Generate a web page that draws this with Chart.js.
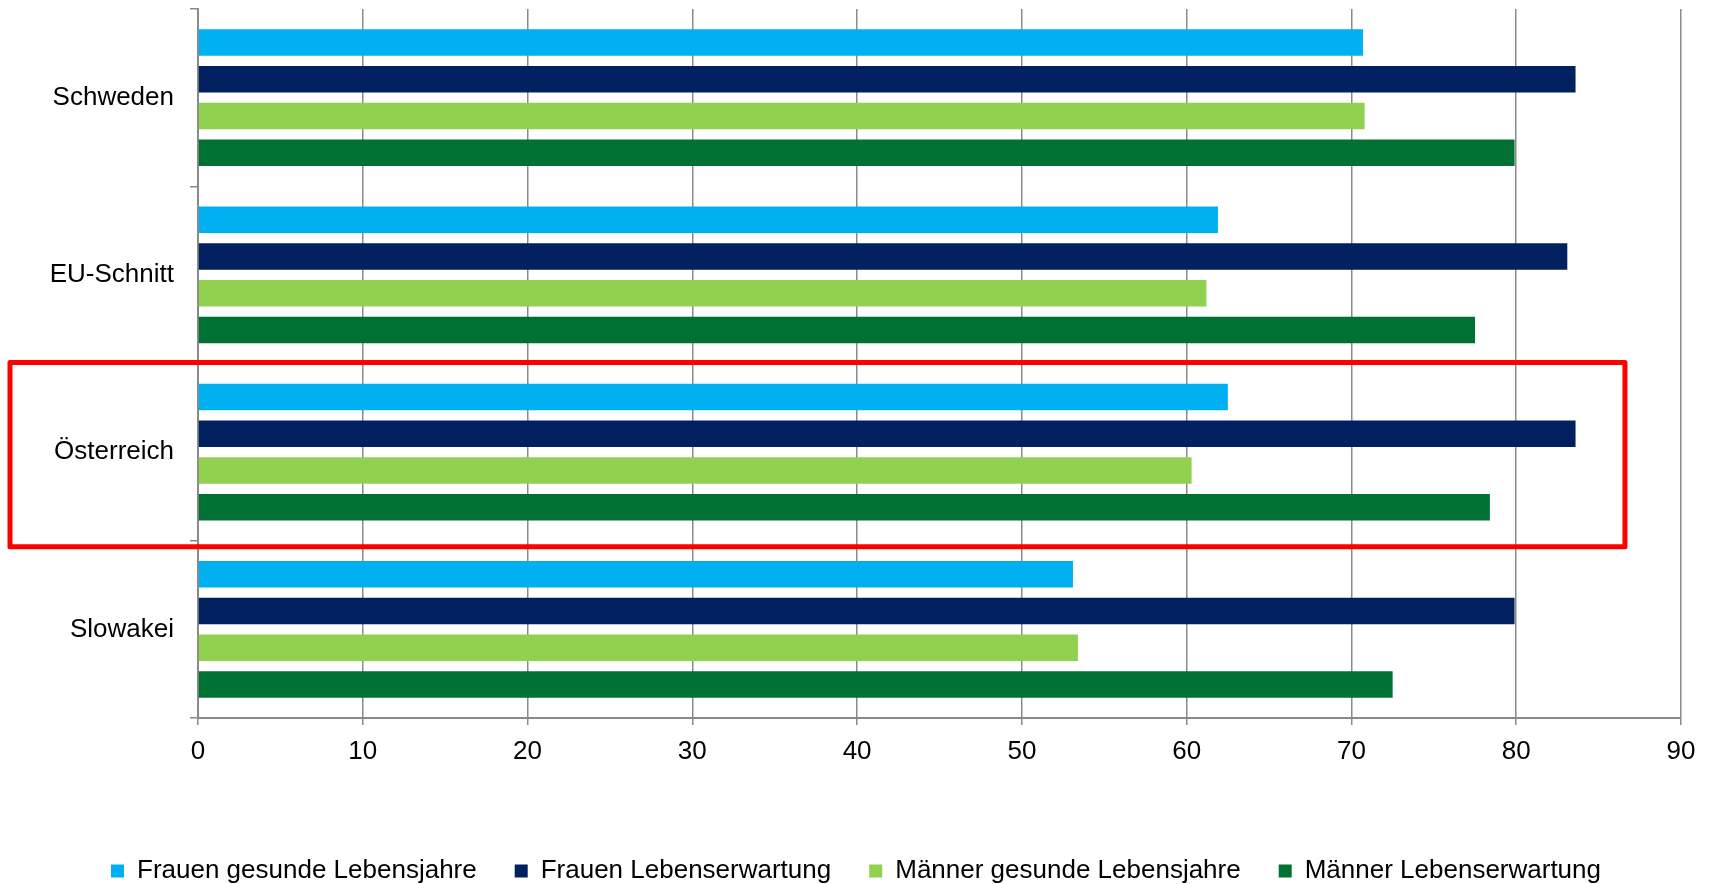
<!DOCTYPE html>
<html lang="de">
<head>
<meta charset="utf-8">
<title>Gesunde Lebensjahre und Lebenserwartung</title>
<script src="https://cdn.jsdelivr.net/npm/chart.js@4.4.1/dist/chart.umd.min.js"></script>
<style>
  html, body { margin: 0; padding: 0; background: #fff; }
  #wrap { width: 1710px; height: 884px; }
</style>
</head>
<body>
<div id="wrap"><canvas id="chart" width="1710" height="884"></canvas></div>
<script>
// categories and series (years)
const categories = ['Schweden', 'EU-Schnitt', 'Österreich', 'Slowakei'];
const frauenGesund = [70.7, 61.9, 62.5, 53.1];
const frauenLeben = [83.6, 83.1, 83.6, 79.9];
const maennerGesund = [70.8, 61.2, 60.3, 53.4];
const maennerLeben = [79.9, 77.5, 78.4, 72.5];
const xTicks = [0, 10, 20, 30, 40, 50, 60, 70, 80, 90];

const FONT = '"Liberation Sans", Arial, sans-serif';
const GRID = '#8a8a8a';

// red frame around the Austria group
const highlightBox = {
  id: 'highlightBox',
  afterDraw(chart) {
    const { ctx, scales: { x, y } } = chart;
    const idx = categories.indexOf('Österreich');
    const band = y.getPixelForValue(1) - y.getPixelForValue(0);
    const mid = y.getPixelForValue(idx);
    const top = mid - band / 2 - 1;
    const bottom = mid + band / 2 + 6;
    const left = 10;
    const right = x.getPixelForValue(86.6);
    ctx.save();
    ctx.strokeStyle = '#ff0000';
    ctx.lineWidth = 5;
    ctx.lineJoin = 'round';
    ctx.strokeRect(left, top, right - left, bottom - top);
    ctx.restore();
  }
};

const bar = (label, data, color) => ({
  label, data, backgroundColor: color, borderWidth: 0,
  categoryPercentage: 0.8285, barPercentage: 0.721
});

new Chart(document.getElementById('chart').getContext('2d'), {
  type: 'bar',
  data: {
    labels: categories,
    datasets: [
      bar('Frauen gesunde Lebensjahre', frauenGesund, '#00b0f0'),
      bar('Frauen Lebenserwartung', frauenLeben, '#002060'),
      bar('Männer gesunde Lebensjahre', maennerGesund, '#92d050'),
      bar('Männer Lebenserwartung', maennerLeben, '#007033')
    ]
  },
  options: {
    indexAxis: 'y',
    responsive: false,
    animation: false,
    layout: { padding: { top: 9, right: 29, left: 31, bottom: -10 } },
    plugins: {
      tooltip: { enabled: false },
      legend: {
        position: 'bottom',
        labels: {
          boxWidth: 13, boxHeight: 13, padding: 38,
          color: '#000', font: { family: FONT, size: 26 }
        }
      }
    },
    scales: {
      x: {
        min: 0, max: 90,
        afterBuildTicks: s => { s.ticks = xTicks.map(v => ({ value: v })); },
        afterFit: s => { s.height = 102; },
        grid: { color: GRID, lineWidth: 1.5, tickLength: 7, drawTicks: true },
        border: { color: GRID, width: 2 },
        ticks: { color: '#000', padding: 11, font: { family: FONT, size: 26 } }
      },
      y: {
        afterFit: s => { s.width = 167; s.paddingTop = 0; s.paddingBottom = 0; },
        grid: { drawOnChartArea: false, color: GRID, lineWidth: 1.5, tickLength: 8, offset: true },
        border: { color: GRID, width: 2 },
        ticks: { color: '#000', padding: 16, font: { family: FONT, size: 26 } }
      }
    }
  },
  plugins: [highlightBox]
});
</script>
</body>
</html>
